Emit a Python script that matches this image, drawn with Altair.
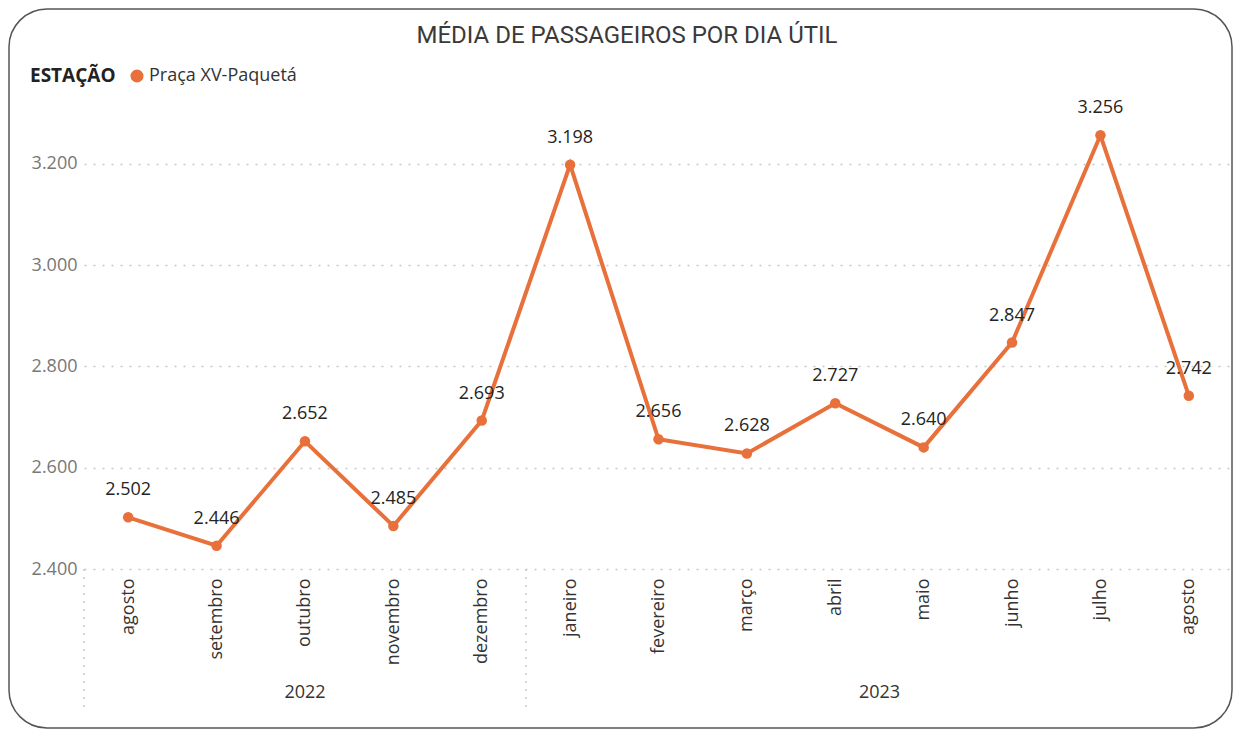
import altair as alt
import pandas as pd

months = ["agosto", "setembro", "outubro", "novembro", "dezembro", "janeiro",
          "fevereiro", "março", "abril", "maio", "junho", "julho", "agosto"]
years = ["2022"] * 5 + ["2023"] * 8
values = [2502, 2446, 2652, 2485, 2693, 3198, 2656, 2628, 2727, 2640, 2847, 3256, 2742]
station = "Praça XV-Paquetá"
year_labels = ["2022", "2023"]
year_centers = [2, 8.5]
year_separators = [-0.5, 4.5]
y_ticks = [2400, 2600, 2800, 3000, 3200]

df = pd.DataFrame({"idx": list(range(len(months))), "month": months, "year": years,
                   "value": values, "station": [station] * len(months)})
df_years = pd.DataFrame({"x": year_centers, "label": year_labels})
df_sep = pd.DataFrame({"x": year_separators})

W, H = 1149, 456
FONT = "Open Sans"
ORANGE = "#E8703A"

month_expr = "[" + ",".join("'" + m + "'" for m in months) + "][datum.value]"

x_scale = alt.Scale(domain=[-0.5, 12.5], nice=False, zero=False)
y_scale = alt.Scale(domain=[2400, 3300], nice=False, zero=False)

base = alt.Chart(df)

line = base.mark_line(strokeWidth=4, color=ORANGE).encode(
    x=alt.X("idx:Q", scale=x_scale,
            axis=alt.Axis(values=list(range(13)), labelExpr=month_expr, labelAngle=-90,
                          labelFontSize=18, labelColor="#333333", labelFont=FONT,
                          labelPadding=9, domain=False, ticks=False, grid=False, title=None)),
    y=alt.Y("value:Q", scale=y_scale,
            axis=alt.Axis(values=y_ticks,
                          labelExpr="replace(format(datum.value, ','), ',', '.')",
                          labelFontSize=18, labelColor="#777777", labelFont=FONT,
                          labelPadding=7, domain=False, ticks=False,
                          grid=True, gridDash=[2, 7], gridColor="#c8c8c8", gridWidth=1.5,
                          title=None)),
)

points = base.mark_circle(size=110, opacity=1).encode(
    x=alt.X("idx:Q", scale=x_scale),
    y=alt.Y("value:Q", scale=y_scale),
    color=alt.Color("station:N", scale=alt.Scale(range=[ORANGE]),
                    legend=alt.Legend(orient="none", legendX=-54, legendY=-46,
                                      direction="horizontal", titleOrient="left",
                                      title="ESTAÇÃO", titleFont=FONT, titleFontSize=19,
                                      titleFontWeight="bold", titleColor="#222222",
                                      titlePadding=12, labelFont=FONT, labelFontSize=18,
                                      labelColor="#333333", symbolType="circle",
                                      symbolSize=170, symbolOffset=0, labelOffset=3)),
)

labels = base.transform_calculate(
    lbl="replace(format(datum.value, ','), ',', '.')"
).mark_text(dy=-27, fontSize=18, font=FONT, color="#252423").encode(
    x=alt.X("idx:Q", scale=x_scale),
    y=alt.Y("value:Q", scale=y_scale),
    text="lbl:N",
)

year_text = alt.Chart(df_years).mark_text(fontSize=18, font=FONT, color="#333333",
                                          baseline="middle").encode(
    x=alt.X("x:Q", scale=x_scale),
    y=alt.value(580),
    text="label:N",
)

seps = alt.Chart(df_sep).mark_rule(strokeDash=[2, 6], color="#c8c8c8", strokeWidth=1.5).encode(
    x=alt.X("x:Q", scale=x_scale),
    y=alt.value(H),
    y2=alt.value(597),
)

title = alt.Chart(pd.DataFrame({"t": ["MÉDIA DE PASSAGEIROS POR DIA ÚTIL"]})).mark_text(
    fontSize=24, font="Roboto", color="#3a3a3a", baseline="middle", align="center"
).encode(x=alt.value(543), y=alt.value(-77), text="t:N")

border = alt.Chart(pd.DataFrame({"a": [0]})).mark_rect(
    filled=False, cornerRadius=38, stroke="#555555", strokeWidth=1.5
).encode(x=alt.value(-75), x2=alt.value(1148), y=alt.value(-104), y2=alt.value(615))

chart = alt.layer(border, seps, line, points, labels, year_text, title).properties(
    width=W, height=H,
    autosize=alt.AutoSizeParams(type="none"),
    padding={"left": 76, "top": 105, "right": 1, "bottom": 161},
).configure_view(stroke=None)

chart.save("out.html", embed_options={"renderer": "svg", "actions": False})
